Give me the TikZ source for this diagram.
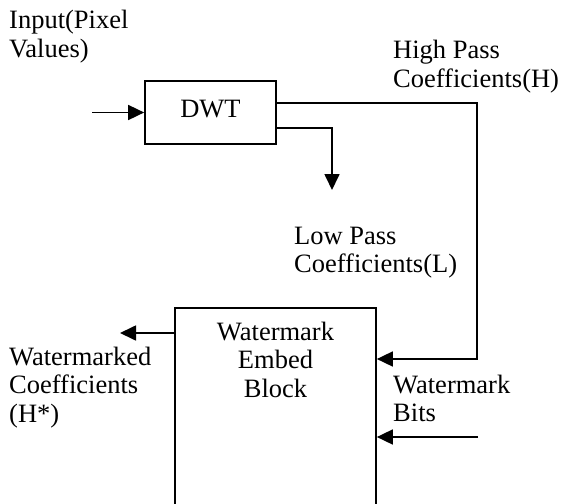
\documentclass[tikz,border=0pt]{standalone}
\usepackage{fontspec}
\setmainfont{Liberation Serif}
\usetikzlibrary{arrows.meta}
\begin{document}
\begin{tikzpicture}[x=1pt,y=-1pt,
  every node/.style={font=\fontsize{26.5}{28.5}\selectfont},
  blk/.style={draw,line width=1.7pt,inner sep=0pt},
  lbl/.style={inner sep=0pt,align=left,anchor=base west},
  ctr/.style={inner sep=0pt,align=center,anchor=base},
  arr/.style={line width=1.7pt,-{Triangle[length=16pt,width=15pt]}}]
\useasboundingbox (0,0) rectangle (561,503);
\clip (0,0) rectangle (561,503);
% blocks
\node[blk,minimum width=131pt,minimum height=63pt] (dwt) at (210.5,112.5) {};
\node[ctr] (dwtt) at (210.5,117) {DWT};
\node[blk,minimum width=201pt,minimum height=202pt] (embed) at (275.5,409) {};
\node[ctr] (embt) at (275.5,397) {Watermark\\Embed\\Block};
% labels (anchor = baseline of last line)
\node[lbl] (inl) at (9,57.5) {Input(Pixel\\Values)};
\node[lbl] (hpl) at (393,87.5) {High Pass\\Coefficients(H)};
\node[lbl] (lpl) at (294,272.5) {Low Pass\\Coefficients(L)};
\node[lbl] (wml) at (9,422) {Watermarked\\Coefficients\\(H*)};
\node[lbl] (wbl) at (393,421.5) {Watermark\\Bits};
% coordinates
\coordinate (inS) at (92,112.5);
\coordinate (hpturn) at (477,103);
\coordinate (hpin) at (376,359);
\coordinate (lpturn) at (332,128);
\coordinate (lpend) at (332,190);
\coordinate (outend) at (120,333);
\coordinate (bitsS) at (478,437);
% connectors
\draw[arr] (inS) -- (dwt.west);
\draw[arr] (dwt.east |- hpturn) -- (hpturn) |- (embed.east |- hpin);
\draw[arr] (dwt.east |- lpturn) -- (lpturn) -- (lpend);
\draw[arr] (embed.west |- outend) -- (outend);
\draw[arr] (bitsS) -- (embed.east |- bitsS);
\end{tikzpicture}
\end{document}
